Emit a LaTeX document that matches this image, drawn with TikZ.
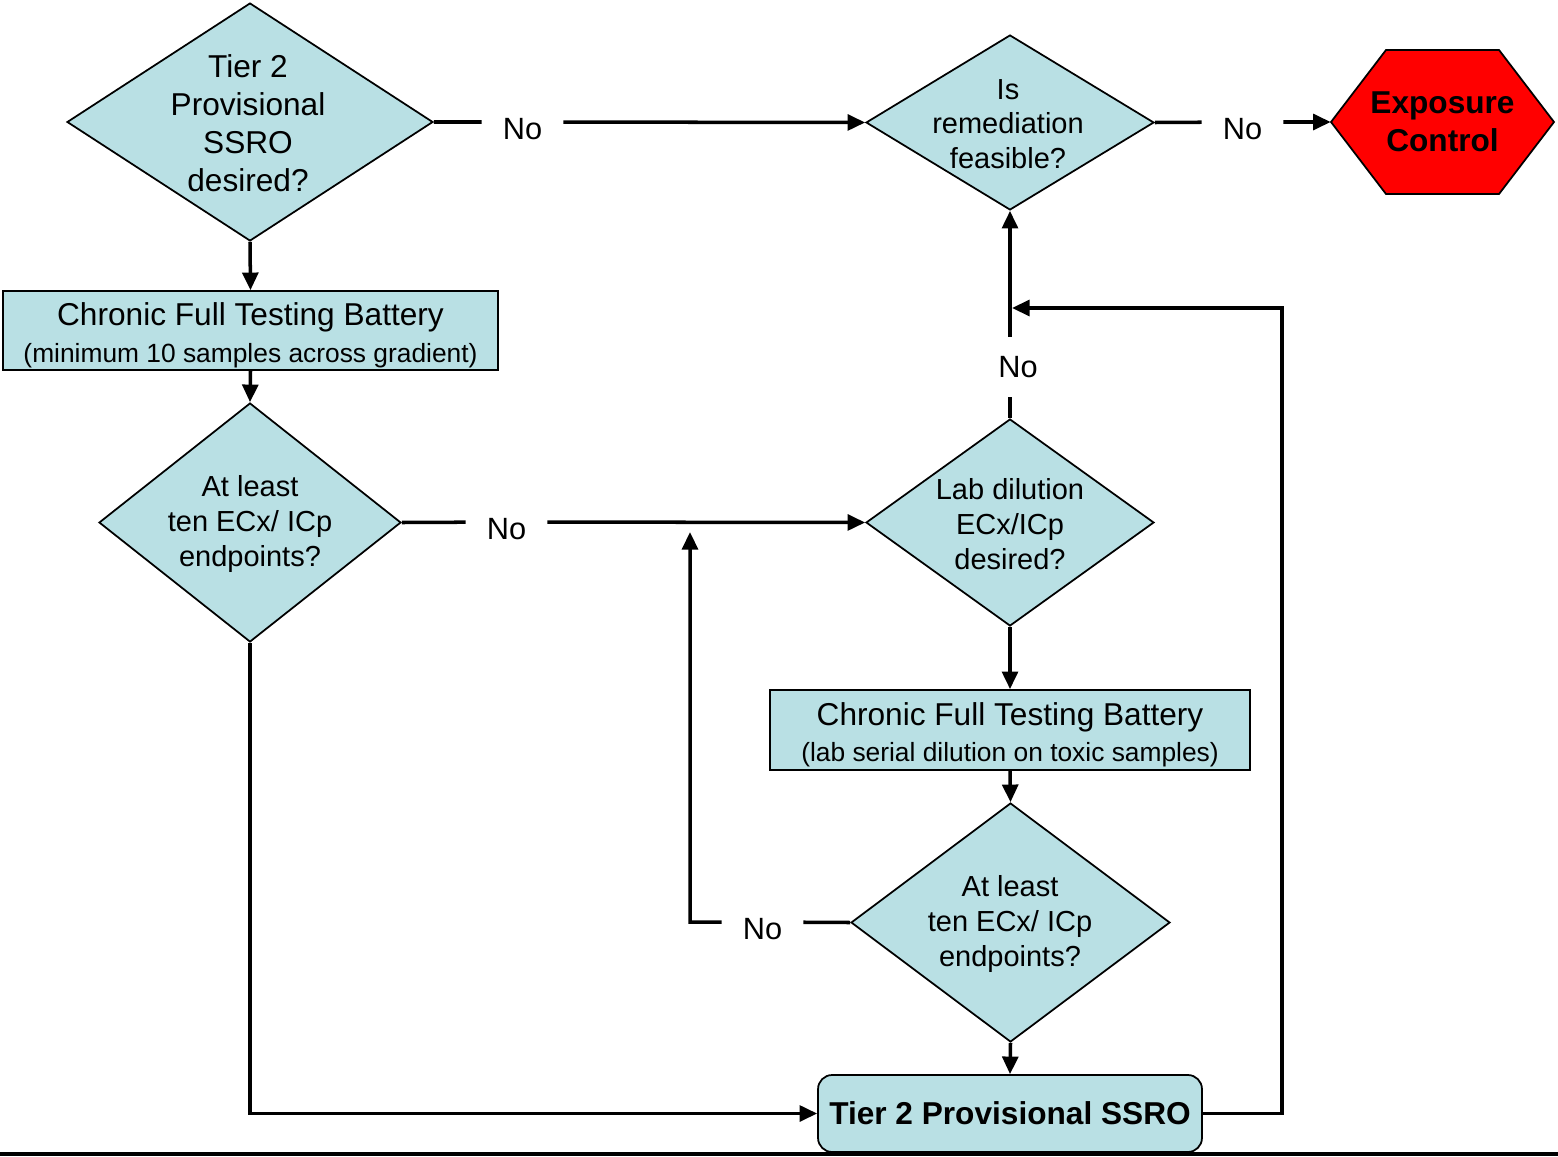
\documentclass[tikz,border=0pt]{standalone}
\usepackage{fontspec}
\setmainfont{Liberation Sans}
\usetikzlibrary{positioning, arrows.meta, shapes.geometric}
\definecolor{paleblue}{RGB}{185,224,228}

\begin{document}
\begin{tikzpicture}[
        x=0.02cm, y=-0.02cm,
        decision/.style={diamond, draw=black, line width=1pt, fill=paleblue, inner sep=0pt},
        qtext/.style={align=center, font=\fontsize{16.5}{19.8}\selectfont},
        bigtext/.style={align=center, font=\fontsize{18}{21.6}\selectfont},
        process/.style={rectangle, draw=black, line width=1pt, fill=paleblue, inner sep=0pt, align=center},
        result/.style={process, rounded corners=8pt, font=\fontsize{18}{21.6}\selectfont\bfseries},
        stopshape/.style={draw=black, line width=1pt, fill=red},
        stoptext/.style={inner sep=0pt, align=center, font=\fontsize{18}{21.6}\selectfont\bfseries},
        nolabel/.style={inner sep=0pt, font=\fontsize{17.5}{21}\selectfont},
        nohoriz/.style={nolabel, minimum width=1.62cm, text height=19.4pt, text depth=0pt},
        arrow/.style={-{Triangle[length=10pt, width=9pt]}, line width=2pt},
        link/.style={line width=2pt}
    ]
        \useasboundingbox (0,0) rectangle (1558,1156);

        % Nodes
        \node[decision, minimum width=7.32cm, minimum height=4.76cm] (tier) at (250,122) {};
        \node[bigtext] (tiertxt) at (248,123) {Tier 2\\Provisional\\SSRO\\desired?};

        \node[process, minimum width=9.9cm, minimum height=1.58cm] (batt1) at (250.5,330.5)
            {{\fontsize{18}{21.6}\selectfont\rule{0pt}{18.5pt}Chronic Full Testing Battery}\\[5pt]
             {\fontsize{15}{18}\selectfont (minimum 10 samples across gradient)}};

        \node[decision, minimum width=6.04cm, minimum height=4.78cm] (ten1) at (250,522.5) {};
        \node[qtext] (ten1txt) at (250,524) {At least\\ten ECx/ ICp\\endpoints?};

        \node[decision, minimum width=5.76cm, minimum height=3.5cm] (remed) at (1010,122.5) {};
        \node[qtext] (remedtxt) at (1008,124) {Is\\remediation\\feasible?};

        \coordinate (expoc) at (1442.5,122);
        \draw[stopshape, shift={(expoc)}] (-111.5,0) -- (-56.5,-72) -- (56.5,-72) -- (111.5,0)
            -- (56.5,72) -- (-56.5,72) -- cycle;
        \node[stoptext, minimum width=4.46cm, minimum height=2.88cm] (expo) at (expoc) {Exposure\\Control};

        \node[decision, minimum width=5.76cm, minimum height=4.14cm] (dil) at (1010,522.5) {};
        \node[qtext] (diltxt) at (1010,524) {Lab dilution\\ECx/ICp\\desired?};

        \node[process, minimum width=9.6cm, minimum height=1.6cm] (batt2) at (1010,730)
            {{\fontsize{18}{21.6}\selectfont\rule{0pt}{18.5pt}Chronic Full Testing Battery}\\[5pt]
             {\fontsize{15}{18}\selectfont (lab serial dilution on toxic samples)}};

        \node[decision, minimum width=6.38cm, minimum height=4.78cm] (ten2) at (1010.5,922.5) {};
        \node[qtext] (ten2txt) at (1010,924) {At least\\ten ECx/ ICp\\endpoints?};

        \node[result, minimum width=7.68cm, minimum height=1.54cm] (ssro) at (1010,1113.5) {Tier 2 Provisional SSRO};

        % No labels
        \node[nohoriz] (no1) at (522.5,122) {No};
        \node[nohoriz] (no2) at (506.5,522) {No};
        \node[nohoriz] (no3) at (1242.5,122) {No};
        \node[nolabel, minimum height=1.2cm] (no4) at (1010,367) {\hspace{0.32cm}No};
        \node[nohoriz] (no5) at (762.5,922) {No};

        \coordinate (loopup) at (690,532);
        \coordinate (feedcorner) at (1282,308);
        \coordinate (feedin) at (1012,308);

        % Connections
        \draw[arrow] (tier.east) -- (no1) -- (remed.west);
        \draw[arrow] (remed.east) -- (no3) -- (expo.west);
        \draw[arrow] (tier.south) -- (batt1.north);
        \draw[arrow] (batt1.south) -- (ten1.north);
        \draw[arrow] (ten1.east) -- (no2) -- (dil.west);
        \draw[arrow] (dil.north) -- (no4) -- (remed.south);
        \draw[arrow] (dil.south) -- (batt2.north);
        \draw[arrow] (batt2.south) -- (ten2.north);
        \draw[arrow] (ten2.south) -- (ssro.north);
        \draw[arrow] (ten2.west) -- (no5) -| (loopup);
        \draw[arrow] (ten1.south) |- (ssro.west);
        \draw[arrow] (ssro.east) -| (feedcorner) -- (feedin);

        % bottom rule
        \draw[link] (0,1154) -- (1558,1154);
    \end{tikzpicture}
\end{document}
